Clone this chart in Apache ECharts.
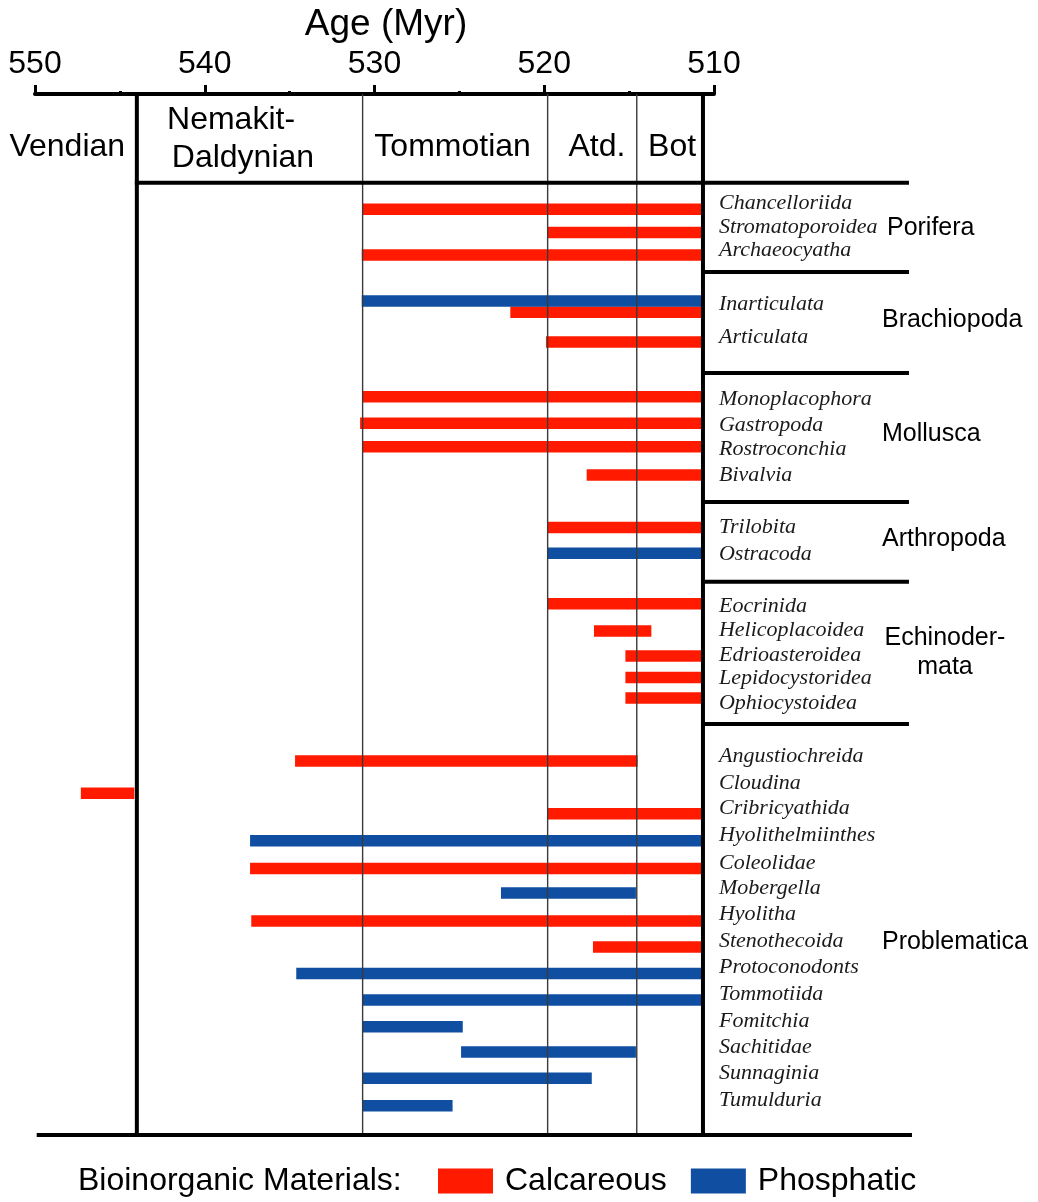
<!DOCTYPE html>
<html>
<head>
<meta charset="utf-8">
<script src="https://cdn.jsdelivr.net/npm/echarts@6/dist/echarts.min.js"></script>
<style>
html,body{margin:0;padding:0;background:#fff;}
#chart{width:1038px;height:1202px;}
</style>
</head>
<body>
<div id="chart"></div>
<script>
// ---------------- data ----------------
const ageTicks = [550, 540, 530, 520, 510];

// stage boundaries (Myr)
const baseCambrian = 544.0;
const stageLines = [530.7, 519.8, 514.55];
const topBoundary = 510.65;

const periodNames = ['Vendian', 'Nemakit-', 'Daldynian', 'Tommotian', 'Atd.', 'Bot'];
const periodAge   = [548.1, 538.45, 537.75, 525.4, 516.9, 512.47];
const periodRow   = [2.04, 1.0, 2.46, 2.04, 2.04, 2.04];

const taxa = ['Chancelloriida','Stromatoporoidea','Archaeocyatha','Inarticulata','Articulata',
  'Monoplacophora','Gastropoda','Rostroconchia','Bivalvia','Trilobita','Ostracoda',
  'Eocrinida','Helicoplacoidea','Edrioasteroidea','Lepidocystoridea','Ophiocystoidea',
  'Angustiochreida','Cloudina','Cribricyathida','Hyolithelmiinthes','Coleolidae','Mobergella',
  'Hyolitha','Stenothecoida','Protoconodonts','Tommotiida','Fomitchia','Sachitidae','Sunnaginia','Tumulduria'];
const taxonRow = [4.18,5.12,5.99,8.08,9.33,
  11.72,12.72,13.65,14.64,16.66,17.69,
  19.70,20.60,21.56,22.44,23.39,
  25.43,26.48,27.46,28.47,29.54,30.51,
  31.53,32.56,33.56,34.58,35.61,36.61,37.64,38.67];

const groupNames = ['Porifera','Brachiopoda','Mollusca','Arthropoda','Echinoder-\nmata','Problematica'];
const groupRow   = [5.15, 8.70, 13.06, 17.09, 21.46, 32.58];
const separatorRow = [3.41, 6.84, 10.72, 15.68, 18.74, 24.21];

// bars: taxon, material, first age, last age, row
const barTaxon = ['Chancelloriida','Stromatoporoidea','Archaeocyatha','Inarticulata','Inarticulata','Articulata',
  'Monoplacophora','Gastropoda','Rostroconchia','Bivalvia','Trilobita','Ostracoda',
  'Eocrinida','Helicoplacoidea','Edrioasteroidea','Lepidocystoridea','Ophiocystoidea',
  'Angustiochreida','Cloudina','Cribricyathida','Hyolithelmiinthes','Coleolidae','Mobergella',
  'Hyolitha','Stenothecoida','Protoconodonts','Tommotiida','Fomitchia','Sachitidae','Sunnaginia','Tumulduria'];
const barMaterial = ['C','C','C','P','C','C',
  'C','C','C','C','C','P',
  'C','C','C','C','C',
  'C','C','C','P','C','P',
  'C','C','P','P','P','P','P','P'];
const barStart = [530.7,519.8,530.75,530.75,522.0,519.9,
  530.7,530.85,530.7,517.5,519.8,519.8,
  519.8,517.07,515.22,515.22,515.22,
  534.68,547.3,519.8,537.33,537.33,522.55,
  537.26,517.13,534.61,530.7,530.7,524.9,530.7,530.7];
const barEnd = [510.75,510.75,510.75,510.75,510.75,510.75,
  510.75,510.75,510.75,510.75,510.75,510.75,
  510.75,513.69,510.75,510.75,510.75,
  514.5,544.15,510.75,510.75,510.75,514.6,
  510.75,510.75,510.75,510.75,524.8,514.6,517.2,525.4];
const barRow = [4.43,5.32,6.19,7.95,8.39,9.53,
  11.63,12.65,13.55,14.64,16.66,17.65,
  19.59,20.63,21.59,22.42,23.21,
  25.63,26.87,27.66,28.69,29.76,30.70,
  31.78,32.78,33.79,34.81,35.84,36.81,37.82,38.88];

// ---------------- styles ----------------
const RED = '#ff1a00';
const BLUE = '#0f4ea0';
const SANS = '"Liberation Sans", Arial, Helvetica, sans-serif';
const SERIF = '"Liberation Serif", "Times New Roman", serif';
const BAR_H = 11.5;

function barData(mat) {
  const out = [];
  for (let i = 0; i < barTaxon.length; i++) {
    if (barMaterial[i] === mat) out.push({name: barTaxon[i], value: [barStart[i], barEnd[i], barRow[i]]});
  }
  return out;
}

function renderBar(params, api) {
  const s = api.coord([api.value(0), api.value(2)]);
  const e = api.coord([api.value(1), api.value(2)]);
  const h = BAR_H;
  return {
    type: 'rect',
    shape: {x: Math.min(s[0], e[0]), y: s[1] - h / 2, width: Math.abs(e[0] - s[0]), height: h},
    style: {fill: api.visual('color')}
  };
}

function renderFrame(params, api) {
  const ch = [];
  const c = (a, r) => api.coord([a, r]);
  const line = (p1, p2, w, col) => ch.push({type: 'line', shape: {x1: p1[0], y1: p1[1], x2: p2[0], y2: p2[1]},
    style: {stroke: col || '#000', lineWidth: w}});
  const rightX = c(topBoundary, 0)[0];
  const extent = 206; // horizontal reach of the taxon panel lines
  // stage thin lines
  stageLines.forEach(a => line(c(a, 0), c(a, 40), 1.4, '#3a3a3a'));
  // thick boundaries
  line(c(baseCambrian, 0), c(baseCambrian, 40), 4);
  line(c(topBoundary, 0), c(topBoundary, 40), 4);
  // header bottom line
  const hb = c(baseCambrian, separatorRow[0]);
  line([hb[0] - 2, hb[1]], [rightX + extent, hb[1]], 4);
  // group separators
  separatorRow.slice(1).forEach(r => {
    const p = c(topBoundary, r);
    line([rightX, p[1]], [rightX + extent, p[1]], 4);
  });
  // bottom line
  const b0 = c(549.9, 40);
  line(b0, [rightX + extent + 3, b0[1]], 4);
  // period labels
  periodNames.forEach((n, i) => {
    const p = c(periodAge[i], periodRow[i]);
    ch.push({type: 'text', x: p[0], y: p[1], style: {text: n, fill: '#000', font: '32px ' + SANS,
      align: 'center', verticalAlign: 'middle'}});
  });
  // taxon labels
  taxa.forEach((n, i) => {
    const p = c(topBoundary, taxonRow[i]);
    ch.push({type: 'text', x: rightX + 16, y: p[1], style: {text: n, fill: '#1a1a1a',
      font: 'italic 22px ' + SERIF, align: 'left', verticalAlign: 'middle'}});
  });
  // group labels
  groupNames.forEach((n, i) => {
    const p = c(topBoundary, groupRow[i]);
    const multi = n.indexOf('\n') >= 0;
    const gx = multi ? rightX + 242 : rightX + (i === 0 ? 184 : 179);
    ch.push({type: 'text', x: gx, y: p[1], style: {text: n, fill: '#000',
      font: '25px ' + SANS, align: multi ? 'center' : 'left', verticalAlign: 'middle', lineHeight: 29}});
  });
  return {type: 'group', children: ch};
}

const chart = echarts.init(document.getElementById('chart'), null, {renderer: 'canvas'});
chart.setOption({
  backgroundColor: '#fff',
  animation: false,
  grid: {left: 35, right: 324, top: 94, bottom: 67, containLabel: false},
  xAxis: {
    type: 'value', position: 'top', min: 510, max: 550, interval: 10, inverse: true,
    axisLine: {show: true, lineStyle: {color: '#000', width: 4}},
    axisTick: {show: true, length: 9, lineStyle: {color: '#000', width: 3}},
    minorTick: {show: true, splitNumber: 2, length: 3, lineStyle: {color: '#000', width: 3}},
    splitLine: {show: false},
    axisLabel: {fontSize: 32, color: '#000', fontFamily: SANS, margin: 14,
      formatter: v => ageTicks.indexOf(v) >= 0 ? String(v) : ''}
  },
  yAxis: {type: 'value', min: 0, max: 40, inverse: true, show: false},
  legend: {
    data: ['Calcareous', 'Phosphatic'], left: 438, top: 1165, padding: 0,
    itemWidth: 55, itemHeight: 25, itemGap: 24, icon: 'rect', selectedMode: false,
    textStyle: {fontSize: 32, color: '#000', fontFamily: SANS, padding: [0, 0, 0, 7]}
  },
  graphic: [
    {type: 'text', x: 386, y: 25, style: {text: 'Age (Myr)', fill: '#000', font: '37px ' + SANS,
      align: 'center', verticalAlign: 'middle'}},
    {type: 'text', x: 78, y: 1181, style: {text: 'Bioinorganic Materials:', fill: '#000', font: '32px ' + SANS,
      align: 'left', verticalAlign: 'middle'}}
  ],
  series: [
    {name: 'Calcareous', type: 'custom', renderItem: renderBar, itemStyle: {color: RED},
      encode: {x: [0, 1], y: 2}, data: barData('C'), z: 2},
    {name: 'Phosphatic', type: 'custom', renderItem: renderBar, itemStyle: {color: BLUE},
      encode: {x: [0, 1], y: 2}, data: barData('P'), z: 2},
    {name: 'frame', type: 'custom', renderItem: renderFrame, silent: true, clip: false,
      encode: {x: 0, y: 1}, data: [[530, 20]], z: 5}
  ]
});
</script>
</body>
</html>
